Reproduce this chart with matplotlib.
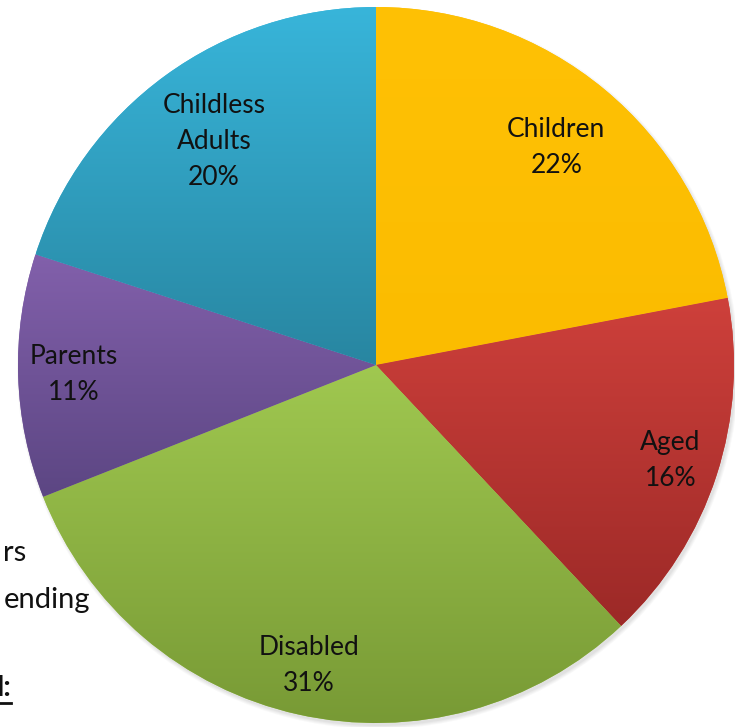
import numpy as np
import matplotlib
matplotlib.use("Agg")
import matplotlib.pyplot as plt
from matplotlib.colors import LinearSegmentedColormap
from matplotlib.patches import Circle

plt.rcParams['font.family'] = ['Lato', 'DejaVu Sans']

# spending shares, clockwise from 12 o'clock
groups = ['Children', 'Aged', 'Disabled', 'Parents', 'Childless\nAdults']
shares = [22, 16, 31, 11, 20]

# each slice gets a top-to-bottom gradient
top_colors = ['#FFC105', '#CE403B', '#A0C850', '#8260AB', '#38B5DA']
bottom_colors = ['#FBBC00', '#9C2927', '#789A35', '#5C4683', '#2886A1']
label_radius = [0.79, 0.865, 0.86, 0.845, 0.77]

W, H = 735, 727
fig = plt.figure(figsize=(W / 100, H / 100), dpi=100)
ax = fig.add_axes([0, 0, 1, 1])

cx, cy, R = 376, 362, 358

# soft drop shadow under the pie
for k, a in enumerate([0.05, 0.05, 0.06, 0.08]):
    ax.add_patch(Circle((cx + 2, cy - 3), R + 3 - k, color='#808080',
                        alpha=a, lw=0, zorder=0))

wedges, _ = ax.pie(shares, startangle=90, counterclock=False,
                   center=(cx, cy), radius=R, frame=True,
                   wedgeprops=dict(linewidth=0))

grad = np.linspace(0, 1, 256).reshape(-1, 1)
for w, c0, c1 in zip(wedges, top_colors, bottom_colors):
    w.set_facecolor(c0)
    ext = w.get_path().get_extents()
    cmap = LinearSegmentedColormap.from_list('g', [c0, c1])
    im = ax.imshow(grad, cmap=cmap, aspect='auto', origin='upper',
                   extent=[ext.x0, ext.x1, ext.y0, ext.y1], zorder=2)
    im.set_clip_path(w)

for w, name, pct, rl in zip(wedges, groups, shares, label_radius):
    mid = np.deg2rad((w.theta1 + w.theta2) / 2)
    x = cx + rl * R * np.cos(mid)
    y = cy + rl * R * np.sin(mid)
    ax.text(x, y, f'{name}\n{pct}%', ha='center', va='center',
            fontsize=19, color='#111111', linespacing=1.55, zorder=5)

# slide text cut off on the left
ax.text(26, H - 553, 'rs', ha='right', va='center', fontsize=21, color='#111111')
ax.text(90, H - 600, 'ending', ha='right', va='center', fontsize=21, color='#111111')
ax.text(11, H - 688, 'l:', ha='right', va='center', fontsize=21,
        fontweight='bold', color='#111111')
ax.plot([0, 11], [H - 703, H - 703], color='#111111', lw=2)

ax.set_xlim(0, W)
ax.set_ylim(0, H)
ax.set_aspect('auto')
ax.axis('off')
fig.savefig('out.png', dpi=100, facecolor='white')
